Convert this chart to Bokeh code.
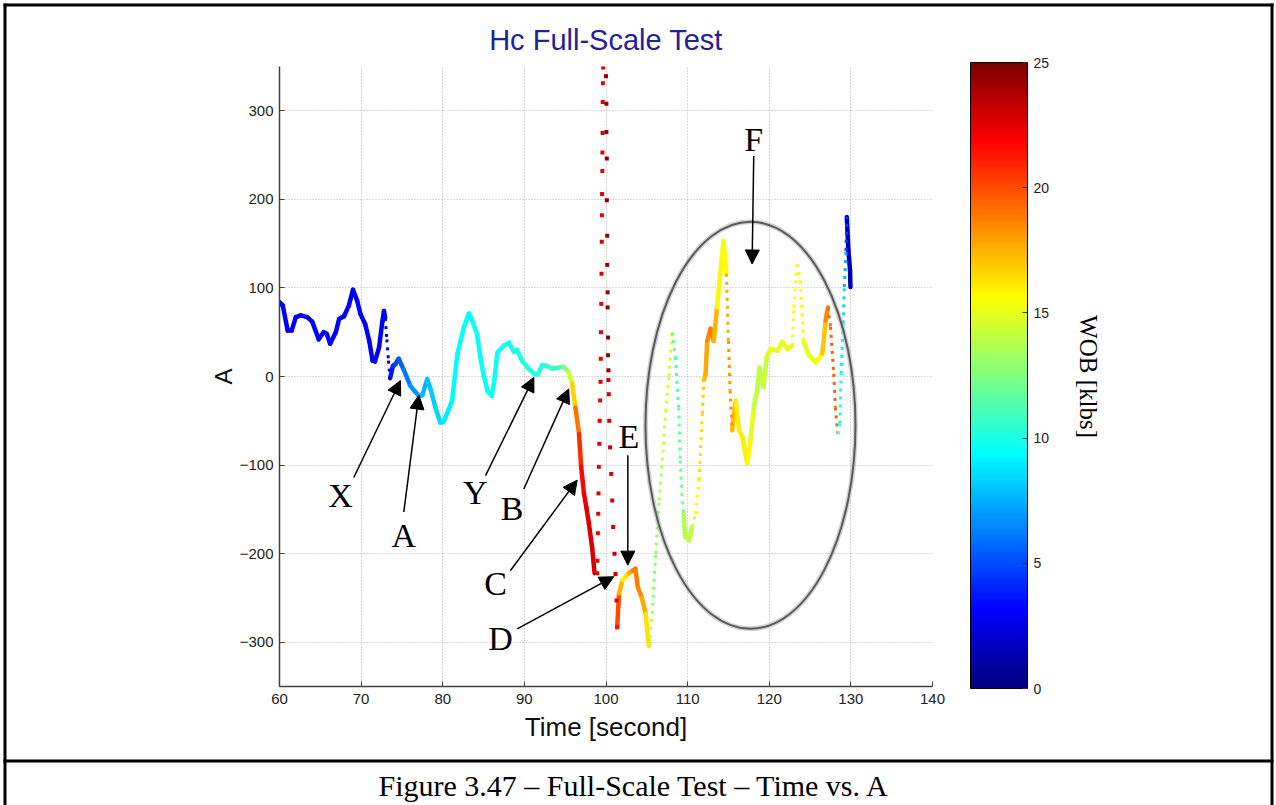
import numpy as np
from bokeh.plotting import figure
from bokeh.models import (ColumnDataSource, LinearColorMapper, ColorBar, FixedTicker,
                          Arrow, NormalHead, Label, Title)
from bokeh.embed import file_html
from bokeh.resources import INLINE

# ---------------- data: time [s], A, WOB [klbs] ----------------
# dense samples (drawn as a continuous trace)
T1 = [60.0, 60.4, 61.0, 61.5, 62.0, 62.6, 63.4, 64.0, 64.8, 65.4, 65.8, 66.2, 66.9, 67.3,
      67.9, 68.5, 69.0, 69.5, 69.9, 70.5, 71.0, 71.4, 71.7, 72.2, 72.6, 72.8, 72.95]
A1 = [84, 80, 52, 52, 67, 69, 67, 62, 42, 50, 48, 37, 50, 65, 68, 80, 98, 86, 71, 59, 40,
      18, 17, 33, 62, 74, 66]
W1 = [3.1, 3.1, 3.1, 3.1, 3.1, 3.1, 3.1, 3.1, 3.1, 3.1, 3.1, 3.1, 3.1, 3.1, 3.1, 3.1, 3.1,
      3.1, 3.1, 3.1, 3.1, 3.1, 3.1, 3.1, 3.1, 3.0, 2.8]

T2 = [72.95, 73.15, 73.35, 73.55]
A2 = [66, 42, 18, -2]
W2 = [2.6, 2.4, 2.4, 2.6]

T3 = [73.55, 73.9, 74.2, 74.6, 75.2, 76.0, 76.6, 77.1, 77.5, 78.1, 78.5, 79.1, 79.7, 80.1,
      80.7, 81.15, 81.8, 82.6, 83.2, 83.5, 84.2, 84.6, 85.0, 85.5, 86.0, 86.3, 86.7, 87.5,
      88.1, 88.7, 89.1, 89.7, 90.5, 91.2, 91.6, 92.2, 92.7, 93.4, 94.2, 94.8, 95.4]
A3 = [-2, 12, 14, 20, 8, -10, -17, -22, -21, -3, -14, -35, -52, -51, -38, -27, 26, 56, 71,
      66, 48, 22, 2, -17, -22, -5, 27, 35, 38, 28, 30, 18, 9, 3, 2, 13, 12, 9, 10, 11, 5]
W3 = [3.5, 4.0, 4.5, 5.0, 5.8, 6.5, 6.8, 7.0, 7.3, 7.8, 8.0, 8.3, 8.6, 8.8, 9.0, 9.2, 9.4,
      9.5, 9.5, 9.5, 9.5, 9.5, 9.5, 9.6, 9.6, 9.6, 9.7, 9.8, 9.9, 10.0, 10.0, 10.1, 10.2,
      10.2, 10.3, 10.3, 10.4, 10.5, 10.8, 11.5, 13.5]

T4 = [95.4, 95.85, 96.25, 96.7, 96.95, 97.3, 97.6, 97.9, 98.3, 98.6]
A4 = [5, -8, -35, -65, -102, -132, -148, -166, -193, -222]
W4 = [13.5, 15.5, 18.0, 20.0, 21.5, 22.0, 22.5, 22.5, 22.8, 22.8]

# sparse samples during the fast transient near t = 100 s
UP_T = [98.92, 98.95, 99.0, 99.05, 99.08, 99.12, 99.18, 99.22, 99.28, 99.33, 99.36, 99.38,
        99.42, 99.45, 99.48, 99.5, 99.52, 99.55, 99.56, 99.58, 99.6, 99.62, 99.65]
UP_A = [-222, -208, -177, -155, -132, -102, -76, -50, -27, -6, 20, 50, 82, 116, 152, 182,
        206, 232, 253, 275, 310, 331, 349]
UP_W = [22.5, 22.5, 22.5, 22.5, 22.5, 22.5, 22.5, 22.5, 22.5, 22.5, 22.5, 22.5, 22.5, 22.5,
        22.5, 22.5, 22.5, 22.5, 22.5, 22.5, 22.5, 22.5, 22.5]
DOWN_T = [100.0, 100.05, 100.05, 100.1, 100.1, 100.15, 100.15, 100.2, 100.2, 100.25, 100.25,
          100.3, 100.3, 100.34, 100.4, 100.5, 100.64, 100.76, 100.88, 101.04, 101.16, 101.29,
          101.37]
DOWN_A = [339, 308, 276, 246, 199, 159, 126, 95, 78, 44, 24, 7, -4, -20, -50, -80, -110,
          -140, -170, -200, -223, -253, -283]
DOWN_W = [24.5, 24.5, 24.5, 24.5, 24.5, 24.5, 24.5, 24.5, 24.5, 24.5, 24.5, 24.5, 23.0, 23.0,
          23.0, 23.0, 23.0, 23.0, 23.0, 23.0, 23.0, 22.5, 21.5]

T5 = [101.37, 101.6, 102.0, 102.4, 102.8, 103.3, 103.6, 103.9, 104.4, 104.85, 105.25]
A5 = [-283, -245, -230, -226, -222, -219, -217, -238, -250, -268, -304]
W5 = [21.0, 19.0, 16.0, 15.8, 17.0, 18.5, 19.0, 18.5, 18.5, 17.0, 15.8]

T6 = [105.25, 105.65, 106.1, 106.5, 106.9, 107.3, 107.7, 108.1]
A6 = [-304, -268, -200, -140, -95, -40, 0, 50]
W6 = [15.5, 13.0, 12.5, 13.5, 14.0, 14.5, 15.0, 14.0]

T7 = [108.1, 108.5, 108.9, 109.1, 109.3, 109.5]
A7 = [50, 22, -35, -95, -132, -155]
W7 = [12.0, 11.5, 11.5, 12.0, 12.0, 12.5]

T8 = [109.5, 109.7, 110.15, 110.55]
A8 = [-155, -181, -185, -170]
W8 = [13.5, 14.0, 14.0, 14.0]

T9 = [110.55, 110.95, 111.4, 111.8, 112.0]
A9 = [-170, -155, -117, -42, -4]
W9 = [14.0, 15.0, 16.0, 16.8, 17.0]

T10 = [112.0, 112.2, 112.4, 112.8, 113.2, 113.6, 114.2, 114.4, 114.75]
A10 = [-4, 3, 40, 54, 40, 78, 135, 153, 116]
W10 = [17.0, 17.5, 18.0, 18.8, 18.8, 16.0, 15.5, 15.5, 15.5]

T11 = [114.75, 115.0, 115.2, 115.45]
A11 = [116, 40, -16, -61]
W11 = [17.5, 18.0, 18.2, 18.5]

T12 = [115.45, 115.9, 116.3, 116.7, 117.3, 117.7, 118.1, 118.5, 118.8, 119.3, 119.7, 120.15,
       121.0, 121.6, 122.2, 122.8]
A12 = [-61, -27, -61, -68, -98, -72, -35, -16, 10, -12, 22, 31, 29, 39, 31, 35]
W12 = [18.5, 16.0, 16.0, 16.0, 16.0, 15.5, 14.5, 14.0, 14.0, 14.0, 14.5, 15.0, 15.0, 15.0,
       15.0, 15.0]

T13 = [122.8, 123.0, 123.4, 123.6, 123.8, 124.0, 124.2]
A13 = [35, 78, 127, 118, 108, 71, 40]
W13 = [15.5, 15.5, 15.5, 15.5, 15.5, 15.5, 15.5]

T14 = [124.2, 124.85, 125.7, 126.5, 126.9, 127.2]
A14 = [40, 24, 16, 26, 63, 78]
W14 = [15.0, 15.0, 15.0, 16.0, 18.0, 19.0]

T15 = [127.2, 127.5, 127.9, 128.1, 128.4]
A15 = [78, 56, 3, -35, -65]
W15 = [19.0, 19.5, 19.5, 19.5, 19.5]

T16 = [128.4, 128.65, 128.8, 129.05, 129.2, 129.4, 129.5]
A16 = [-65, -53, 3, 60, 101, 142, 180]
W16 = [11.0, 10.5, 9.5, 9.0, 8.0, 7.0, 2.5]

T17 = [129.5, 129.7, 129.9, 129.95]
A17 = [180, 142, 120, 101]
W17 = [1.5, 2.0, 1.5, 1.2]

X_TICKS = [60, 70, 80, 90, 100, 110, 120, 130, 140]
Y_TICKS = [-300, -200, -100, 0, 100, 200, 300]
WOB_TICKS = [0, 5, 10, 15, 20, 25]

CAPTION = "Figure 3.47 \u2013 Full-Scale Test \u2013 Time vs. A"

# --------------- jet colour map -----------------
def jet_palette(n=256):
    out = []
    for i in range(n):
        v = i / (n - 1)
        r = min(max(1.5 - abs(4 * v - 3), 0), 1)
        g = min(max(1.5 - abs(4 * v - 2), 0), 1)
        b = min(max(1.5 - abs(4 * v - 1), 0), 1)
        out.append("#%02x%02x%02x" % (int(r * 255), int(g * 255), int(b * 255)))
    return out

mapper = LinearColorMapper(palette=jet_palette(), low=0, high=25)

# split each run into coloured two-point pieces
solid_runs = [(T1, A1, W1), (T3, A3, W3), (T4, A4, W4), (T5, A5, W5), (T8, A8, W8),
              (T10, A10, W10), (T12, A12, W12), (T14, A14, W14), (T17, A17, W17)]
dotted_runs = [(T2, A2, W2), (T6, A6, W6), (T7, A7, W7), (T9, A9, W9), (T11, A11, W11),
               (T13, A13, W13), (T15, A15, W15), (T16, A16, W16)]

def pieces(runs):
    xs, ys, ws = [], [], []
    for t, a, w in runs:
        for i in range(len(t) - 1):
            xs.append([t[i], t[i + 1]])
            ys.append([a[i], a[i + 1]])
            ws.append(0.5 * (w[i] + w[i + 1]))
    return ColumnDataSource(dict(xs=xs, ys=ys, w=ws))

# --------------- canvas geometry ----------------
W_PX, H_PX = 1276, 805
FL, FR, FT, FB = 279, 932, 66, 686   # plot frame edges in pixels

p = figure(width=W_PX, height=H_PX, x_range=(60, 140), y_range=(-350, 350),
           output_backend="svg", toolbar_location=None,
           min_border_left=FL, min_border_right=W_PX - FR,
           min_border_top=FT, min_border_bottom=H_PX - FB,
           title="Hc Full-Scale Test")
p.background_fill_color = "white"
p.border_fill_color = "white"
p.outline_line_color = None

p.title.align = "center"
p.title.text_font = "Liberation Sans"
p.title.text_font_size = "29px"
p.title.text_font_style = "normal"
p.title.text_color = "#22229a"
p.title.standoff = 22

for ax in (p.xaxis, p.yaxis):
    ax.axis_line_color = "#404040"
    ax.axis_line_width = 1.5
    ax.major_tick_in = 5
    ax.major_tick_out = 0
    ax.major_tick_line_color = "#404040"
    ax.minor_tick_line_color = None
    ax.major_label_text_font = "Liberation Sans"
    ax.major_label_text_font_size = "15px"
    ax.major_label_text_color = "#222222"
    ax.axis_label_text_font = "Liberation Sans"
    ax.axis_label_text_font_style = "normal"
    ax.axis_label_text_color = "#111111"

p.xaxis.ticker = FixedTicker(ticks=X_TICKS)
p.yaxis.ticker = FixedTicker(ticks=Y_TICKS)
p.xaxis.axis_label = "Time [second]"
p.yaxis.axis_label = "A"
p.xaxis.axis_label_text_font_size = "26px"
p.yaxis.axis_label_text_font_size = "24px"
p.xaxis.major_label_standoff = 7
p.yaxis.major_label_standoff = 6
p.xaxis.axis_label_standoff = 5
p.yaxis.axis_label_standoff = 0

for g in (p.xgrid, p.ygrid):
    g.grid_line_color = "#b0b0b0"
    g.grid_line_dash = "1 2"
    g.grid_line_width = 1

# --------------- traces ----------------
cmap = {"field": "w", "transform": mapper}
p.multi_line("xs", "ys", source=pieces(solid_runs), line_color=cmap, line_width=4.5,
             line_cap="round", line_join="round")
p.multi_line("xs", "ys", source=pieces(dotted_runs), line_color=cmap, line_width=3,
             line_dash="3 5")

spike = ColumnDataSource(dict(t=UP_T + DOWN_T, a=UP_A + DOWN_A, w=UP_W + DOWN_W))
p.scatter("t", "a", source=spike, marker="square", size=4, line_color=None,
          fill_color=cmap)

# --------------- region F outline ----------------
p.ellipse(x=[117.7], y=[-55], width=[210], height=[407], width_units="screen",
          height_units="screen", fill_alpha=0, line_color="#b8b8b8", line_width=5,
          line_alpha=0.6)
p.ellipse(x=[117.7], y=[-55], width=[210], height=[407], width_units="screen",
          height_units="screen", fill_alpha=0, line_color="#5a5a5a", line_width=2)

# --------------- event arrows and letters ----------------
arrows = [
    ("X", 67.47, -134, 69.1, -114, 74.82, -4.5),
    ("A", 75.23, -180, 75.23, -153, 77.07, -21),
    ("Y", 84.0, -131, 85.24, -112, 91.16, -1),
    ("B", 88.5, -149, 89.93, -127, 95.44, -14),
    ("C", 86.46, -234, 88.3, -219, 96.47, -117),
    ("D", 87.07, -296, 89.12, -285, 100.96, -226),
    ("E", 102.8, -68, 102.67, -89, 102.67, -213),
    ("F", 118.1, 268, 118.1, 249, 117.9, 127),
]
for name, lx, ly, x0, y0, x1, y1 in arrows:
    p.add_layout(Arrow(end=NormalHead(size=14, fill_color="black", line_color="black"),
                       x_start=x0, y_start=y0, x_end=x1, y_end=y1,
                       line_color="black", line_width=1.5))
    p.add_layout(Label(x=lx, y=ly, text=name, text_font="Liberation Serif",
                       text_font_size="34px", text_align="center",
                       text_baseline="middle", text_color="black"))

# --------------- colour bar ----------------
def at(left, bottom):
    """ColorBar location (bottom-left corner) relative to the plot frame."""
    return (left - FL, FB - bottom)

cb = ColorBar(color_mapper=mapper, ticker=FixedTicker(ticks=WOB_TICKS),
              orientation="vertical",
              width=57, height=626, padding=0, margin=0, location=at(970, 688),
              bar_line_color="black", bar_line_width=1,
              border_line_color=None, background_fill_alpha=0,
              major_tick_in=5, major_tick_out=0, major_tick_line_color="#333333",
              major_label_text_font="Liberation Sans", major_label_text_font_size="14px",
              major_label_text_color="#222222", label_standoff=6)
p.add_layout(cb, "center")

wob_title = Title(text="WOB [klbs]", align="center", text_font="Liberation Serif",
                  text_font_size="25px", text_font_style="normal", text_color="black",
                  standoff=284)
p.add_layout(wob_title, "right")

# --------------- page frame and caption ----------------
def rule(left, top, right, bottom, color="black"):
    solid = LinearColorMapper(palette=[color], low=0, high=1)
    return ColorBar(color_mapper=solid, ticker=FixedTicker(ticks=[]),
                    orientation="horizontal",
                    width=right - left, height=bottom - top, padding=0, margin=0,
                    location=at(left, bottom), bar_line_color=None,
                    border_line_color=None, background_fill_alpha=0,
                    major_tick_line_color=None, minor_tick_line_color=None,
                    major_label_text_alpha=0, label_standoff=0)

for box in [(3, 3, 1273, 6),        # top
            (3, 3, 6, 830),         # left
            (1270, 3, 1273, 830),   # right
            (3, 759, 1273, 762)]:   # rule above the caption
    p.add_layout(rule(*box), "center")

caption = rule(378, 812, 978, 816, color="white")
caption.title = CAPTION
caption.title_text_font = "Liberation Serif"
caption.title_text_font_size = "30px"
caption.title_text_font_style = "normal"
caption.title_text_color = "black"
caption.title_standoff = 21
p.add_layout(caption, "center")

open("out.html", "w").write(file_html(p, INLINE))
